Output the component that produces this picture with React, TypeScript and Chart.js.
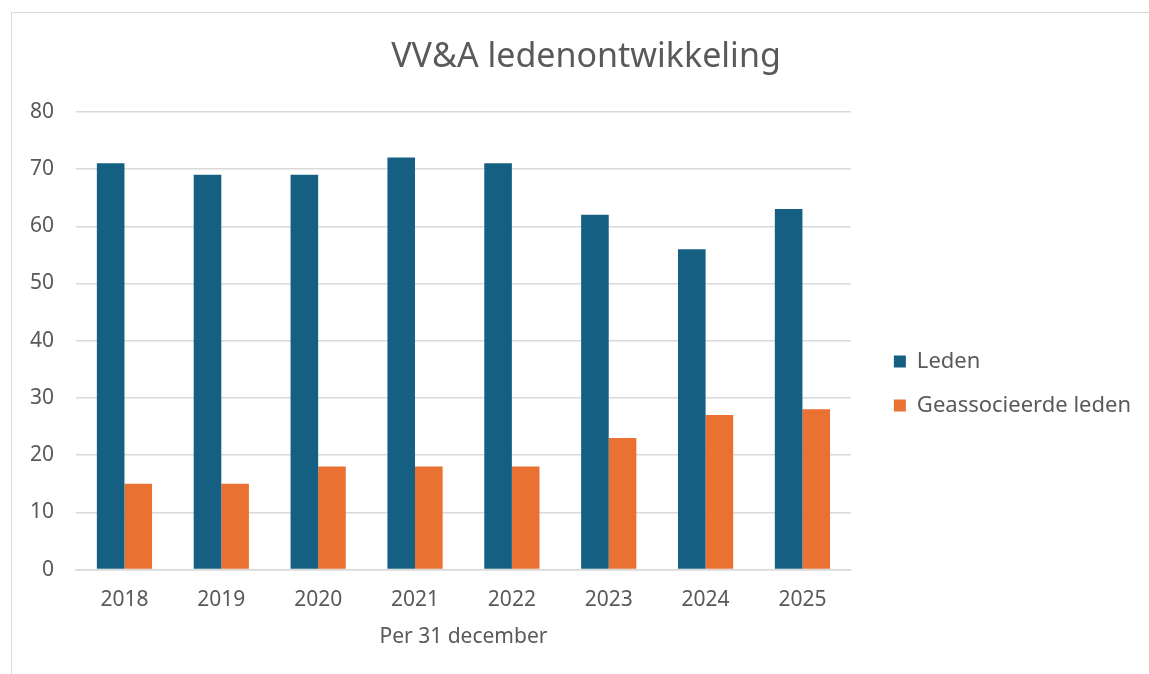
import React, { useEffect, useRef } from "react";
import { Chart, registerables } from "chart.js";

Chart.register(...registerables);

const categories = ["2018", "2019", "2020", "2021", "2022", "2023", "2024", "2025"];
const leden = [71, 69, 69, 72, 71, 62, 56, 63];
const geassocieerd = [15, 15, 18, 18, 18, 23, 27, 28];
const seriesNames = ["Leden", "Geassocieerde leden"];
const titleText = "VV&A ledenontwikkeling";
const xTitle = "Per 31 december";

const FONT = "'Noto Sans', sans-serif";
const TEXT = "#595959";
const LEGEND_GAP = 21;

const patchLegend = (chart: any) => {
  const lg = chart.legend;
  if (!lg || lg.__gapPatched) return;
  const orig = lg.fit.bind(lg);
  lg.fit = function () {
    orig();
    this.width += LEGEND_GAP;
  };
  lg.__gapPatched = true;
};

const layoutTweaks = {
  id: "layoutTweaks",
  afterInit(chart: any) {
    patchLegend(chart);
  },
  beforeLayout(chart: any) {
    patchLegend(chart);
  },
  afterLayout(chart: any) {
    if (chart.titleBlock) chart.titleBlock.left += 23;
    if (chart.legend) chart.legend.left += LEGEND_GAP;
  },
};

export default function App() {
  const ref = useRef<HTMLCanvasElement>(null);
  useEffect(() => {
    if (!ref.current) return;
    const chart = new Chart(ref.current, {
      type: "bar",
      data: {
        labels: categories,
        datasets: [
          { label: seriesNames[0], data: leden, backgroundColor: "#156082", categoryPercentage: 0.57, barPercentage: 1 },
          { label: seriesNames[1], data: geassocieerd, backgroundColor: "#E97132", categoryPercentage: 0.57, barPercentage: 1 },
        ],
      },
      options: {
        animation: false,
        responsive: false,
        layout: { padding: { left: -4, right: 8, top: 25, bottom: 20 } },
        plugins: {
          title: {
            display: true,
            text: titleText,
            color: TEXT,
            font: { family: FONT, size: 34, weight: "normal" },
            padding: { top: 0, bottom: 34 },
          },
          legend: {
            position: "right",
            title: { display: true, text: " ", font: { family: FONT, size: 10 }, padding: { top: 0, bottom: 64 } },
            labels: {
              color: TEXT,
              font: { family: FONT, size: 22 },
              boxWidth: 12,
              boxHeight: 12,
              padding: 22,
            },
          },
          tooltip: { enabled: false },
        },
        scales: {
          x: {
            grid: { display: false },
            border: { display: true, color: "#d9d9d9", width: 1.5 },
            ticks: { color: TEXT, font: { family: FONT, size: 21 }, padding: 10 },
            title: { display: true, text: xTitle, color: TEXT, font: { family: FONT, size: 21 }, padding: { top: 2 } },
          },
          y: {
            min: 0,
            max: 80,
            ticks: { stepSize: 10, color: TEXT, font: { family: FONT, size: 21 }, padding: 22 },
            grid: { color: "#d9d9d9", lineWidth: 1.5, drawTicks: false },
            border: { display: false },
          },
        },
      },
      plugins: [layoutTweaks],
    });
    return () => chart.destroy();
  }, []);
  return (
    <div style={{ position: "fixed", left: 0, top: 0, width: 1149, height: 674, background: "#fff" }}>
      <div style={{ position: "absolute", left: 11, top: 12, right: 0, bottom: 0, borderLeft: "1.5px solid #d9d9d9", borderTop: "1.5px solid #d9d9d9" }} />
      <canvas ref={ref} width={1137} height={662} style={{ position: "absolute", left: 12, top: 12 }} />
    </div>
  );
}
